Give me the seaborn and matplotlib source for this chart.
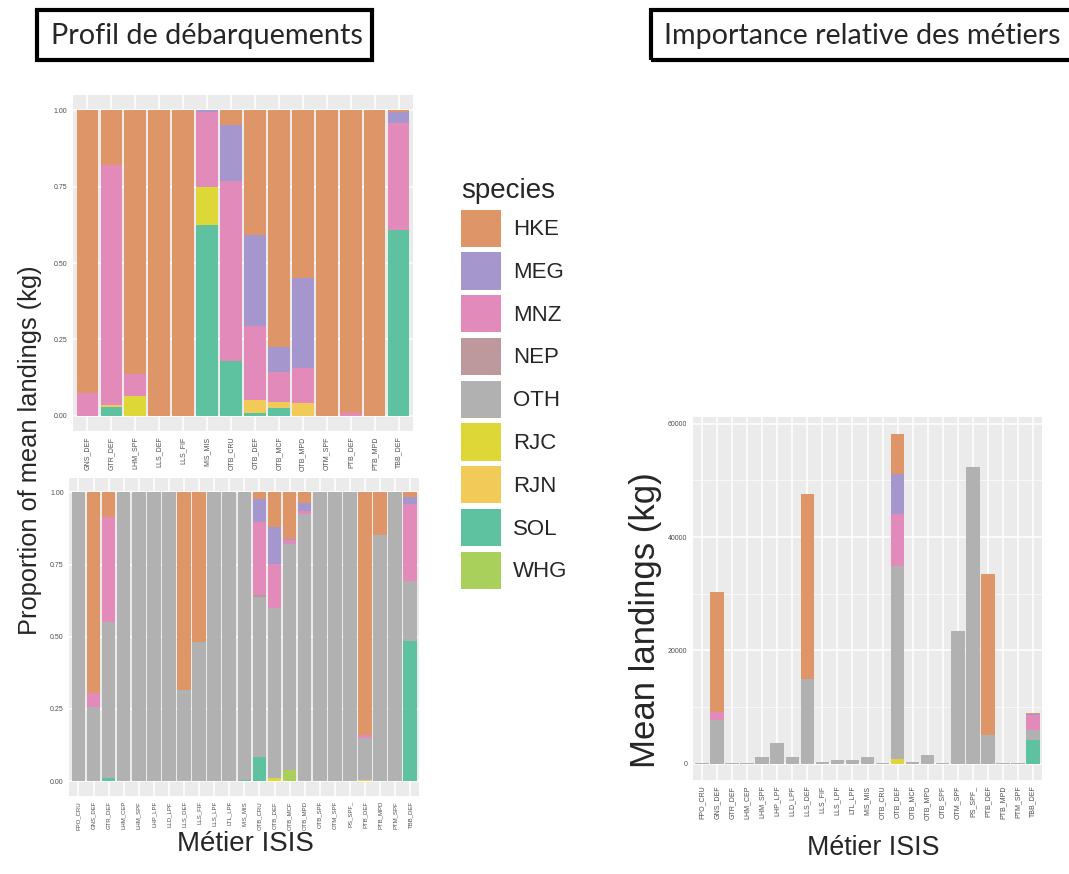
import pandas as pd
import matplotlib
matplotlib.use("Agg")
import matplotlib.pyplot as plt
import seaborn as sns
from matplotlib.patches import Patch, Rectangle
from matplotlib.ticker import MultipleLocator

# species, top of stack first (ggplot order)
species = ["HKE", "MEG", "MNZ", "NEP", "OTH", "RJC", "RJN", "SOL", "WHG"]
species_colors = ["#DE9668", "#A696CE", "#E28BBB", "#BD989D", "#B1B1B1",
                  "#DDD838", "#F2CA58", "#5EC2A1", "#A8D05A"]

# top-left panel : proportions of mean landings (OTH excluded)
metiers_top = ["GNS_DEF", "GTR_DEF", "LHM_SPF", "LLS_DEF", "LLS_FIF", "MIS_MIS", "OTB_CRU",
               "OTB_DEF", "OTB_MCF", "OTB_MPD", "OTM_SPF", "PTB_DEF", "PTB_MPD", "TBB_DEF"]
top_hke = [0.925, 0.18, 0.865, 1, 1, 0, 0.047, 0.407, 0.776, 0.548, 1, 0.99, 1, 0.006]
top_meg = [0, 0, 0, 0, 0, 0.005, 0.186, 0.30, 0.082, 0.295, 0, 0, 0, 0.035]
top_mnz = [0.075, 0.785, 0.07, 0, 0, 0.245, 0.589, 0.243, 0.096, 0.115, 0, 0.01, 0, 0.35]
top_rjc = [0, 0, 0.065, 0, 0, 0.125, 0, 0, 0, 0, 0, 0, 0, 0]
top_rjn = [0, 0.005, 0, 0, 0, 0, 0, 0.042, 0.02, 0.042, 0, 0, 0, 0]
top_sol = [0, 0.03, 0, 0, 0, 0.625, 0.178, 0.008, 0.026, 0, 0, 0, 0, 0.609]

# bottom-left panel : proportions of mean landings (all species)
metiers_all = ["FPO_CRU", "GNS_DEF", "GTR_DEF", "LHM_CEP", "LHM_SPF", "LHP_LPF", "LLD_LPF",
               "LLS_DEF", "LLS_FIF", "LLS_LPF", "LTL_LPF", "MIS_MIS", "OTB_CRU", "OTB_DEF",
               "OTB_MCF", "OTB_MPD", "OTB_SPF", "OTM_SPF", "PS_SPF_", "PTB_DEF", "PTB_MPD",
               "PTM_SPF", "TBB_DEF"]
bot_hke = [0, 0.695, 0.084, 0, 0, 0, 0, 0.685, 0.518, 0, 0, 0, 0.022, 0.12, 0.16, 0.037,
           0, 0, 0, 0.842, 0.149, 0, 0.016]
bot_meg = [0, 0, 0, 0, 0, 0, 0, 0, 0, 0, 0, 0, 0.081, 0.127, 0.005, 0.026,
           0, 0, 0, 0, 0, 0, 0.023]
bot_mnz = [0, 0.05, 0.364, 0, 0, 0, 0, 0, 0, 0, 0, 0, 0.252, 0.155, 0.015, 0.012,
           0, 0, 0, 0.008, 0, 0, 0.269]
bot_nep = [0, 0, 0, 0, 0, 0, 0, 0, 0, 0, 0, 0, 0.007, 0, 0, 0, 0, 0, 0, 0, 0, 0, 0]
bot_oth = [1, 0.255, 0.54, 1, 1, 1, 1, 0.315, 0.482, 1, 1, 0.996, 0.556, 0.588, 0.78, 0.925,
           1, 1, 1, 0.145, 0.851, 1, 0.208]
bot_rjc = [0, 0, 0, 0, 0, 0, 0, 0, 0, 0, 0, 0, 0, 0.01, 0, 0, 0, 0, 0, 0, 0, 0, 0]
bot_rjn = [0, 0, 0, 0, 0, 0, 0, 0, 0, 0, 0, 0, 0, 0, 0, 0, 0, 0, 0, 0.005, 0, 0, 0]
bot_sol = [0, 0, 0.012, 0, 0, 0, 0, 0, 0, 0, 0, 0.004, 0.082, 0, 0, 0, 0, 0, 0, 0, 0, 0, 0.484]
bot_whg = [0, 0, 0, 0, 0, 0, 0, 0, 0, 0, 0, 0, 0, 0, 0.04, 0, 0, 0, 0, 0, 0, 0, 0]

# right panel : mean landings (kg)
mean_hke = [0, 21100, 0, 0, 0, 0, 0, 32600, 0, 0, 0, 0, 0, 7100, 0, 0,
            0, 0, 0, 28500, 0, 0, 100]
mean_meg = [0, 0, 0, 0, 0, 0, 0, 0, 0, 0, 0, 0, 0, 7100, 0, 0, 0, 0, 0, 0, 0, 0, 200]
mean_mnz = [0, 1450, 0, 0, 0, 0, 0, 0, 0, 0, 0, 0, 0, 9200, 0, 0, 0, 0, 0, 0, 0, 0, 2650]
mean_oth = [50, 7700, 150, 50, 1200, 3550, 1180, 15000, 300, 590, 590, 1100, 30, 34100, 300, 1420,
            100, 23360, 52360, 5020, 30, 30, 1800]
mean_rjc = [0, 0, 0, 0, 0, 0, 0, 0, 0, 0, 0, 0, 0, 800, 0, 0, 0, 0, 0, 0, 0, 0, 0]
mean_sol = [0, 0, 0, 0, 0, 0, 0, 0, 0, 0, 0, 0, 0, 0, 0, 0, 0, 0, 0, 0, 0, 0, 4150]

sns.set_theme(style="darkgrid", rc={"axes.facecolor": "#EBEBEB", "grid.color": "white"})
plt.rcParams["font.family"] = ["Liberation Sans", "DejaVu Sans"]

colors = dict(zip(species, species_colors))
W, H = 1069, 874


def px_box(l, t, r, b):
    return [l / W, 1 - b / H, (r - l) / W, (b - t) / H]


def stack_bars(ax, metiers, values, xlabelsize=5):
    # ggplot-like stacked bars: overlay cumulative sums, tallest first
    df = pd.DataFrame(values, index=metiers).reindex(columns=species, fill_value=0)
    cum = df[species[::-1]].cumsum(axis=1)
    for sp in species:
        sns.barplot(x=metiers, y=cum[sp].values, order=metiers, color=colors[sp],
                    width=0.9, saturation=1, linewidth=0, errorbar=None, ax=ax)
    ax.set_xlim(-0.6, len(metiers) - 0.4)
    ax.set_xlabel("")
    ax.set_ylabel("")
    ax.set_axisbelow(True)
    ax.xaxis.grid(True, color="white", lw=1.1)
    ax.yaxis.grid(True, color="white", lw=1.1)
    ax.tick_params(length=2.5, width=0.6, color="#333333", labelsize=5,
                   labelcolor="#4D4D4D", pad=1.5)
    ax.tick_params(axis="x", labelrotation=90, labelsize=xlabelsize)
    for s in ax.spines.values():
        s.set_visible(False)
    return cum


fig = plt.figure(figsize=(W / 100, H / 100), dpi=100)

ax_top = fig.add_axes(px_box(73, 95, 413, 431))
stack_bars(ax_top, metiers_top, {"HKE": top_hke, "MEG": top_meg, "MNZ": top_mnz,
                                  "RJC": top_rjc, "RJN": top_rjn, "SOL": top_sol})
ax_bot = fig.add_axes(px_box(69.4, 478, 419.3, 795.5))
stack_bars(ax_bot, metiers_all, {"HKE": bot_hke, "MEG": bot_meg, "MNZ": bot_mnz,
                                  "NEP": bot_nep, "OTH": bot_oth, "RJC": bot_rjc,
                                  "RJN": bot_rjn, "SOL": bot_sol, "WHG": bot_whg},
           xlabelsize=4.3)
for ax in (ax_top, ax_bot):
    ax.set_ylim(-0.05, 1.05)
    ax.set_yticks([0, 0.25, 0.5, 0.75, 1])
    ax.set_yticklabels(["0.00", "0.25", "0.50", "0.75", "1.00"])

ax_r = fig.add_axes(px_box(693, 417, 1042, 780))
cum = stack_bars(ax_r, metiers_all, {"HKE": mean_hke, "MEG": mean_meg, "MNZ": mean_mnz,
                                      "OTH": mean_oth, "RJC": mean_rjc, "SOL": mean_sol})
ymax = cum["HKE"].max()
ax_r.set_ylim(-0.05 * ymax, 1.05 * ymax)
ax_r.set_yticks([0, 20000, 40000, 60000])
ax_r.set_yticklabels(["0", "20000", "40000", "60000"])
ax_r.yaxis.set_minor_locator(MultipleLocator(10000))
ax_r.yaxis.grid(True, which="minor", color="white", lw=0.5)
ax_r.tick_params(which="minor", length=0)

# axis titles
fig.text(30 / W, 1 - 450 / H, "Proportion of mean landings (kg)", rotation=90,
         ha="center", va="center", fontsize=18.3)
fig.text(245 / W, 1 - 844 / H, "Métier ISIS", ha="center", va="center", fontsize=20)
fig.text(646 / W, 1 - 620 / H, "Mean landings (kg)", rotation=90,
         ha="center", va="center", fontsize=25)
fig.text(873 / W, 1 - 848 / H, "Métier ISIS", ha="center", va="center", fontsize=19.3)

# boxed panel headings
for (l, r), label in [((37, 372), "Profil de débarquements"),
                      ((651, 1080), "Importance relative des métiers")]:
    fig.add_artist(Rectangle((l / W, 1 - 60 / H), (r - l) / W, 50 / H,
                             transform=fig.transFigure, fill=False, ec="black", lw=3,
                             clip_on=False))
fig.text(207 / W, 1 - 36 / H, "Profil de débarquements", ha="center", va="center",
         fontsize=20.8, family=["Lato", "DejaVu Sans"])
fig.text(664 / W, 1 - 36 / H, "Importance relative des métiers", ha="left", va="center",
         fontsize=20.6, family=["Lato", "DejaVu Sans"])

# legend
handles = [Patch(facecolor=colors[s], edgecolor="none") for s in species]
leg = fig.legend(handles, species, title="species", loc="upper left",
                 bbox_to_anchor=(461 / W, 1 - 178 / H), frameon=False, fontsize=16,
                 title_fontsize=20, handlelength=1.8, handleheight=2.2,
                 labelspacing=0.25, handletextpad=0.55, borderpad=0, borderaxespad=0,
                 alignment="left")

fig.savefig("out.png", dpi=100)
